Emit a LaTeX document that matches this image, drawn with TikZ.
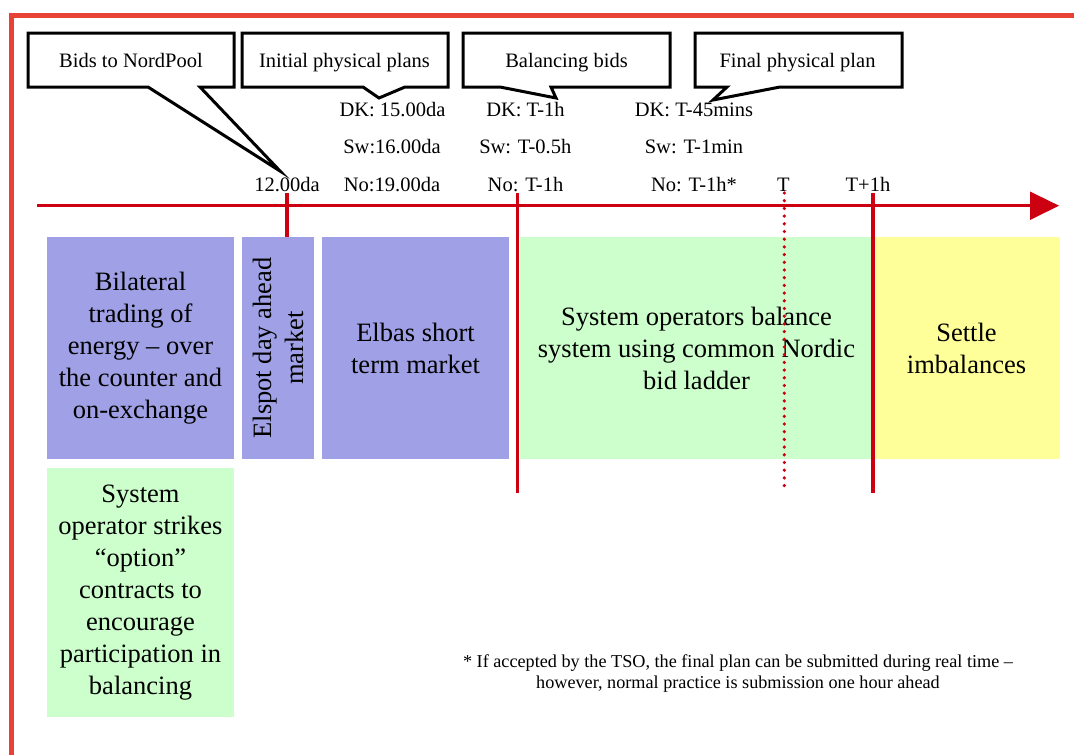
\documentclass[tikz,border=0pt]{standalone}
\usepackage{fontspec}
\setmainfont{Liberation Serif}
\definecolor{framered}{RGB}{232,66,54}
\definecolor{axisred}{RGB}{204,0,17}
\definecolor{boxblue}{RGB}{160,160,230}
\definecolor{boxgreen}{RGB}{204,255,204}
\definecolor{boxyellow}{RGB}{255,255,153}
\begin{document}
\begin{tikzpicture}[x=1pt,y=-1pt,
  lbl/.style={inner sep=0pt,anchor=base,font=\fontsize{20.5}{24}\selectfont},
  calltext/.style={inner sep=0pt,anchor=base,font=\fontsize{20.5}{24}\selectfont},
  callout/.style={draw=black,fill=white,line width=3pt,line join=miter},
  bigbox/.style={inner sep=0pt,align=center,font=\fontsize{26.5}{32}\selectfont},
  tick/.style={draw=axisred,line width=3.3pt},
  dottick/.style={draw=axisred,line width=3.6pt,line cap=round,dash pattern=on 0pt off 7.7pt}
]
\useasboundingbox (0,0) rectangle (1074,755);
% frame
\draw[framered,line width=4.5pt] (11.5,760) -- (11.5,15.5) -- (1080,15.5);

% boxes
\node[bigbox,fill=boxblue,minimum width=187pt,minimum height=222pt] (bil) at (140.5,348)
  {Bilateral\\trading of\\energy – over\\the counter and\\on-exchange};
\node[bigbox,fill=boxblue,minimum width=72pt,minimum height=222pt] (elspotbox) at (278,348) {};
\node[bigbox,rotate=90] (elspot) at (elspotbox.center) {Elspot day ahead\\market};
\node[bigbox,fill=boxblue,minimum width=187pt,minimum height=222pt] (elbas) at (415.5,348)
  {Elbas short\\term market};
\node[bigbox,fill=boxgreen,minimum width=353pt,minimum height=222pt] (tso) at (696.5,348)
  {System operators balance\\system using common Nordic\\bid ladder};
\node[bigbox,fill=boxyellow,minimum width=187pt,minimum height=222pt] (settle) at (966.5,348)
  {Settle\\imbalances};
\node[bigbox,fill=boxgreen,minimum width=187pt,minimum height=249pt] (opt) at (140.5,592.5)
  {System\\operator strikes\\“option”\\contracts to\\encourage\\participation in\\balancing};

% axis
\coordinate (axstart) at (37,205.7);
\coordinate (axend) at (1033,205.7);
\coordinate (axtip) at (1059,205.7);
\draw[axisred,line width=3.3pt] (axstart) -- (axend);
\fill[axisred] (1030,191.5) -- (axtip) -- (1030,220) -- cycle;

% ticks
\coordinate (t1a) at (287,193); \coordinate (t1b) at (287,237);
\coordinate (t2a) at (517.5,193); \coordinate (t2b) at (517.5,493);
\coordinate (t3a) at (873,193); \coordinate (t3b) at (873,493);
\coordinate (t4a) at (784.3,193); \coordinate (t4b) at (784.3,490);
\draw[tick] (t1a) -- (t1b);
\draw[tick] (t2a) -- (t2b);
\draw[tick] (t3a) -- (t3b);
\draw[dottick] (t4a) -- (t4b);

% time labels
\node[lbl] (l12) at (287,191.7) {12.00da};
\node[lbl] (ldk1) at (392.5,116) {DK: 15.00da};
\node[lbl] (lsw1) at (392,153.7) {Sw:16.00da};
\node[lbl] (lno1) at (392,191.7) {No:19.00da};
\node[lbl] (ldk2) at (525.5,116) {DK: T-1h};
\node[lbl] (lsw2) at (525.3,153.7) {Sw: T-0.5h};
\node[lbl] (lno2) at (525.5,191.7) {No: T-1h};
\node[lbl] (ldk3) at (694,116) {DK: T-45mins};
\node[lbl] (lsw3) at (694,153.7) {Sw: T-1min};
\node[lbl] (lno3) at (694,191.7) {No: T-1h*};
\node[lbl] (lT) at (783.3,191.7) {T};
\node[lbl] (lT1) at (868,191.7) {T+1h};

% callouts
\draw[callout] (28,33) -- (234,33) -- (234,87) -- (200,87) -- (280,171) -- (148,87) -- (28,87) -- cycle;
\draw[callout] (242,33) -- (448,33) -- (448,87) -- (405,87) -- (379,98) -- (363,87) -- (242,87) -- cycle;
\draw[callout] (463,33) -- (670,33) -- (670,87) -- (551,87) -- (556,98) -- (500,87) -- (463,87) -- cycle;
\draw[callout] (695,33) -- (902,33) -- (902,87) -- (780,87) -- (713,100) -- (727,87) -- (695,87) -- cycle;
\node[calltext] (c1) at (131,67.3) {Bids to NordPool};
\node[calltext] (c2) at (344.5,67.3) {Initial physical plans};
\node[calltext] (c3) at (566.5,67.3) {Balancing bids};
\node[calltext] (c4) at (797.5,67.3) {Final physical plan};

% footnote
\node[inner sep=0pt,align=center,font=\fontsize{18.2}{21}\selectfont] (foot) at (738,674)
  {* If accepted by the TSO, the final plan can be submitted during real time –\\however, normal practice is submission one hour ahead};
\end{tikzpicture}
\end{document}
